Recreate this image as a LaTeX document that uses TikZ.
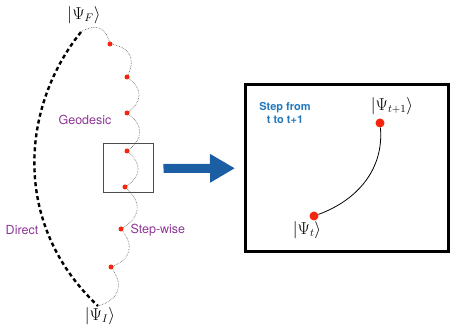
\documentclass[tikz,border=0pt]{standalone}
\usepackage{fontspec}
\setsansfont{TeX Gyre Heros}
\usetikzlibrary{arrows.meta,positioning}
\definecolor{pathpurple}{HTML}{8E3596}
\definecolor{stepblue}{HTML}{2479BD}
\definecolor{arrowblue}{HTML}{1C5EA3}
\definecolor{dotred}{HTML}{F5260E}
\tikzset{
  reddot/.style={circle, fill=dotred, inner sep=0pt, minimum size=5pt},
  bigdot/.style={reddot, minimum size=9pt},
  pathlabel/.style={font=\sffamily\fontsize{12.5}{14}\selectfont, text=pathpurple},
  statelabel/.style={font=\fontsize{16}{18}\selectfont, inner sep=1pt},
  wavy/.style={dash pattern=on 0.6pt off 1pt, line width=0.6pt, draw=black!65,
    bend left=55, looseness=1.4},
  direct/.style={line width=2.4pt, dash pattern=on 4pt off 3pt, draw=black},
  blockarr/.style={-{Triangle[length=25pt,width=27pt]}, line width=9pt, draw=arrowblue}
}

\begin{document}
\begin{tikzpicture}[x=1pt,y=-1pt]
    \useasboundingbox (0,0) rectangle (451,326);
    % left: the two routes between the states
    \coordinate (top) at (81,32);
    \coordinate (bot) at (98,306);
    \node[statelabel] (psiF) at (84,15) {$|\Psi_F\rangle$};
    \node[statelabel] (psiI) at (100,316) {$|\Psi_I\rangle$};
    \draw[direct] (top) .. controls (22,105) and (10,223) .. (bot);
    \foreach \n/\x/\y in {1/110/44, 2/127/77, 3/127/113, 4/127/151,
                          5/125/187, 6/121/229, 7/111/267}
      \coordinate (d\n) at (\x,\y);
    \draw[wavy] (top) to (d1);
    \foreach \a/\b in {1/2,2/3,3/4,4/5,5/6,6/7}
      \draw[wavy] (d\a) to (d\b);
    \draw[wavy] (d7) to (bot);
    \foreach \n in {1,...,7}
      \node[reddot] (s\n) at (d\n) {};
    \node[pathlabel] (geo) at (85,120) {Geodesic};
    \node[pathlabel] (dir) at (22,230) {Direct};
    \node[pathlabel, anchor=west] (stw) at (127,230) {Step-wise};
    \node[draw=black!70, line width=1pt, minimum width=50pt, minimum height=49pt]
      (zoombox) at (128,168.5) {};
    % right: one step, magnified
    \node[draw, line width=3pt, minimum width=203pt, minimum height=167pt]
      (bigbox) at (347,168) {};
    \draw[blockarr, shorten <=10pt, shorten >=9pt] (zoombox) -- (bigbox);
    \node[font=\sffamily\bfseries\fontsize{11}{13}\selectfont, text=stepblue, align=center]
      (steptxt) at (285,112.5) {Step from\\t to t+1};
    \node[bigdot] (tnext) at (380,123) {};
    \node[bigdot] (tnow) at (314,216) {};
    \draw[line width=0.8pt] (tnext) to[out=-85, in=20] (tnow);
    \node[statelabel] (psinext) at (392,106) {$|\Psi_{t+1}\rangle$};
    \node[statelabel] (psinow) at (307,230) {$|\Psi_{t}\rangle$};
  \end{tikzpicture}
\end{document}
